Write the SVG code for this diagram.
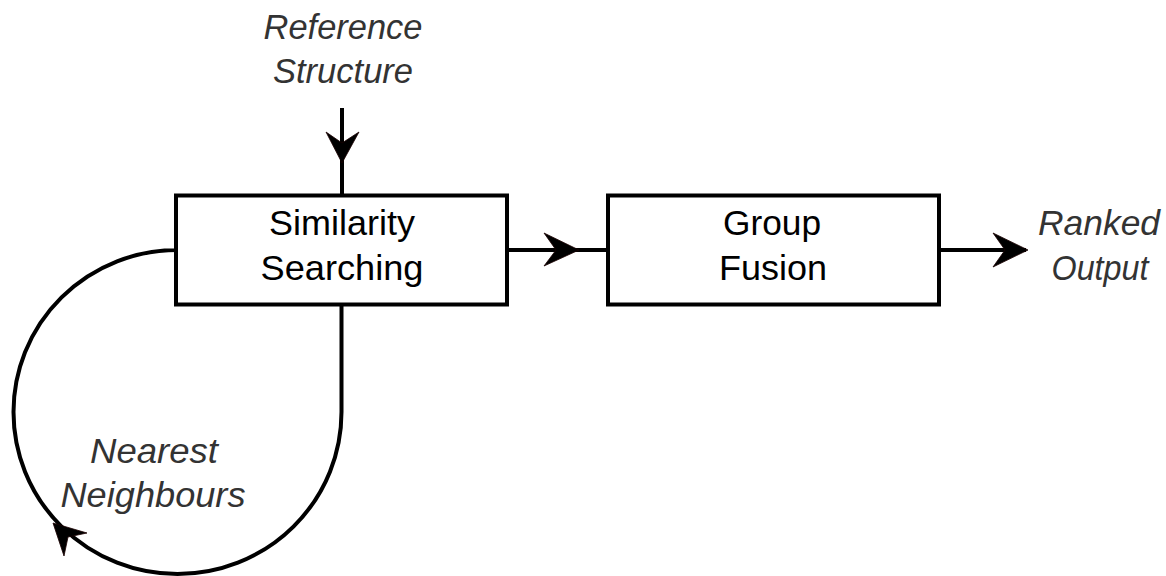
<svg xmlns="http://www.w3.org/2000/svg" width="1166" height="576" viewBox="0 0 1166 576">
  <style>
    .box { fill: #ffffff; stroke: #000000; stroke-width: 4; }
    .wire { fill: none; stroke: #000000; stroke-width: 4; }
    .head { fill: #000000; stroke: #1a0000; stroke-width: 0.8; stroke-linejoin: miter; }
    .name { font-family: "Liberation Sans", Arial, sans-serif; font-size: 35px; fill: #000000; text-anchor: middle; }
    .label { font-family: "Liberation Sans", Arial, sans-serif; font-size: 35px; font-style: italic; fill: #333333; text-anchor: middle; }
  </style>
  <rect width="1166" height="576" fill="#ffffff"/>

  <!-- connectors -->
  <g id="connectors">
    <!-- reference structure into the search -->
    <line class="wire" x1="342" y1="108" x2="342" y2="195"/>
    <polygon class="head" points="326,132 342,163 359,132 342,143"/>
    <!-- search to fusion -->
    <line class="wire" x1="507" y1="250" x2="608" y2="250"/>
    <polygon class="head" points="544,233 579,250 544,266 556,250"/>
    <!-- fusion to ranked output -->
    <line class="wire" x1="939" y1="250" x2="1026" y2="250"/>
    <polygon class="head" points="993,233 1028,250 993,267 1005,250"/>
    <!-- nearest-neighbour feedback loop -->
    <path class="wire" d="M341.5,305 V412 A164,162 0 1 1 177.5,250 H176"/>
    <polygon class="head" points="53,523 87,533 68,537 64,556"/>
  </g>

  <g id="reference-structure">
    <text class="label" x="343" y="39" textLength="159" lengthAdjust="spacingAndGlyphs">Reference</text>
    <text class="label" x="343" y="83" textLength="140" lengthAdjust="spacingAndGlyphs">Structure</text>
  </g>

  <g id="similarity-searching">
    <rect class="box" x="176" y="195.5" width="331" height="109"/>
    <text class="name" x="342" y="235" textLength="146" lengthAdjust="spacingAndGlyphs">Similarity</text>
    <text class="name" x="342" y="280" textLength="163" lengthAdjust="spacingAndGlyphs">Searching</text>
  </g>

  <g id="group-fusion">
    <rect class="box" x="608" y="195.5" width="331" height="109"/>
    <text class="name" x="772" y="235" textLength="98" lengthAdjust="spacingAndGlyphs">Group</text>
    <text class="name" x="773" y="280" textLength="108" lengthAdjust="spacingAndGlyphs">Fusion</text>
  </g>

  <g id="ranked-output">
    <text class="label" x="1099" y="235" textLength="122" lengthAdjust="spacingAndGlyphs">Ranked</text>
    <text class="label" x="1100" y="280" textLength="97" lengthAdjust="spacingAndGlyphs">Output</text>
  </g>

  <g id="nearest-neighbours">
    <text class="label" x="154" y="463" textLength="128" lengthAdjust="spacingAndGlyphs">Nearest</text>
    <text class="label" x="153" y="507" textLength="185" lengthAdjust="spacingAndGlyphs">Neighbours</text>
  </g>
</svg>
